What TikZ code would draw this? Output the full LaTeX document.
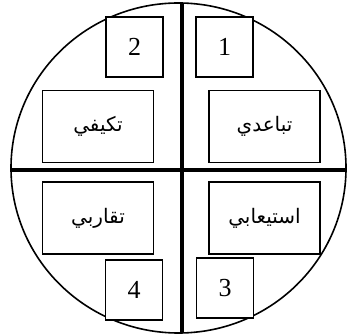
\documentclass[tikz,border=0pt]{standalone}
\usepackage{fontspec}
\setmainfont{Liberation Serif}
\newfontfamily\arabicfont[Script=Arabic]{DejaVu Sans}
\TeXXeTstate=1

\begin{document}
\begin{tikzpicture}[x=1pt, y=-1pt,
    numbox/.style={draw, fill=white, line width=1.4pt, inner sep=0pt,
        minimum width=57pt, minimum height=60pt,
        font=\fontsize{26}{30}\selectfont},
    wordbox/.style={draw, fill=white, line width=1.4pt, inner sep=0pt,
        minimum width=111pt, minimum height=72pt,
        font=\fontsize{20}{24}\selectfont\arabicfont}]
    \useasboundingbox (0, 0) rectangle (347, 336);
    \draw[line width=1.6pt]
        (178.5, 168) ellipse[x radius=167.5, y radius=165];
    \draw[line width=3.2pt]
        (182, 3) -- (182, 333)
        (11, 170) -- (347, 170);
    \foreach \n/\x/\y in {1/224.5/47, 2/134.5/47, 3/225/288, 4/134/290} {
        \node[numbox] (num\n) at (\x, \y) {\n};
    }
    \node[wordbox] (takyifi) at (98, 126.5) {\beginR تكيفي\endR};
    \node[wordbox] (tabaudi) at (264.5, 126.5) {\beginR تباعدي\endR};
    \node[wordbox] (taqarubi) at (98, 218) {\beginR تقاربي\endR};
    \node[wordbox] (istiabi) at (264.5, 218) {\beginR استيعابي\endR};
\end{tikzpicture}
\end{document}
